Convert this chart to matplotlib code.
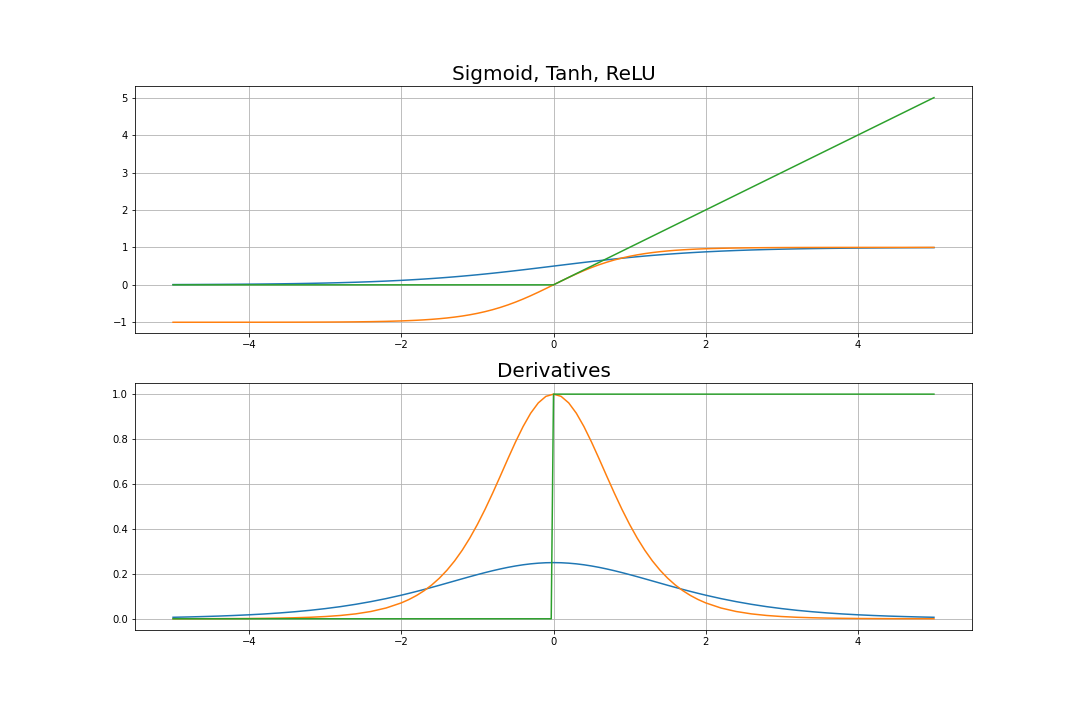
import matplotlib
matplotlib.use("Agg")
import matplotlib.pyplot as plt

# sample points (denser near the middle)
x = [-5.0, -4.8, -4.6, -4.4, -4.2, -4.0, -3.8, -3.6, -3.4, -3.2, -3.0, -2.8, -2.6, -2.4, -2.2,
     -2.0, -1.9, -1.8, -1.7, -1.6, -1.5, -1.4, -1.3, -1.2, -1.1, -1.0,
     -0.9, -0.8, -0.7, -0.6, -0.5, -0.4, -0.3, -0.2, -0.1, 0.0,
     0.1, 0.2, 0.3, 0.4, 0.5, 0.6, 0.7, 0.8, 0.9, 1.0,
     1.1, 1.2, 1.3, 1.4, 1.5, 1.6, 1.7, 1.8, 1.9, 2.0,
     2.2, 2.4, 2.6, 2.8, 3.0, 3.2, 3.4, 3.6, 3.8, 4.0, 4.2, 4.4, 4.6, 4.8, 5.0]

sigmoid = [0.0067, 0.0082, 0.0100, 0.0121, 0.0148, 0.0180, 0.0219, 0.0266, 0.0323, 0.0392, 0.0474, 0.0573, 0.0691, 0.0832, 0.0998,
           0.1192, 0.1301, 0.1419, 0.1545, 0.1680, 0.1824, 0.1978, 0.2142, 0.2315, 0.2497, 0.2689,
           0.2891, 0.3100, 0.3318, 0.3543, 0.3775, 0.4013, 0.4256, 0.4502, 0.4750, 0.5000,
           0.5250, 0.5498, 0.5744, 0.5987, 0.6225, 0.6457, 0.6682, 0.6900, 0.7109, 0.7311,
           0.7503, 0.7685, 0.7858, 0.8022, 0.8176, 0.8320, 0.8455, 0.8581, 0.8699, 0.8808,
           0.9002, 0.9168, 0.9309, 0.9427, 0.9526, 0.9608, 0.9677, 0.9734, 0.9781, 0.9820, 0.9852, 0.9879, 0.9900, 0.9918, 0.9933]

tanh = [-0.9999, -0.9999, -0.9998, -0.9997, -0.9996, -0.9993, -0.9990, -0.9985, -0.9978, -0.9967, -0.9951, -0.9926, -0.9890, -0.9837, -0.9757,
        -0.9640, -0.9562, -0.9468, -0.9354, -0.9217, -0.9051, -0.8854, -0.8617, -0.8337, -0.8005, -0.7616,
        -0.7163, -0.6640, -0.6044, -0.5370, -0.4621, -0.3800, -0.2913, -0.1974, -0.0997, 0.0,
        0.0997, 0.1974, 0.2913, 0.3800, 0.4621, 0.5370, 0.6044, 0.6640, 0.7163, 0.7616,
        0.8005, 0.8337, 0.8617, 0.8854, 0.9051, 0.9217, 0.9354, 0.9468, 0.9562, 0.9640,
        0.9757, 0.9837, 0.9890, 0.9926, 0.9951, 0.9967, 0.9978, 0.9985, 0.9990, 0.9993, 0.9996, 0.9997, 0.9998, 0.9999, 0.9999]

relu_x = [-5.0, 0.0, 5.0]
relu = [0.0, 0.0, 5.0]

d_sigmoid = [0.0066, 0.0081, 0.0099, 0.0120, 0.0146, 0.0177, 0.0214, 0.0259, 0.0313, 0.0376, 0.0452, 0.0540, 0.0644, 0.0763, 0.0898,
             0.1050, 0.1132, 0.1217, 0.1306, 0.1398, 0.1491, 0.1587, 0.1683, 0.1779, 0.1874, 0.1966,
             0.2055, 0.2139, 0.2217, 0.2288, 0.2350, 0.2403, 0.2445, 0.2475, 0.2494, 0.2500,
             0.2494, 0.2475, 0.2445, 0.2403, 0.2350, 0.2288, 0.2217, 0.2139, 0.2055, 0.1966,
             0.1874, 0.1779, 0.1683, 0.1587, 0.1491, 0.1398, 0.1306, 0.1217, 0.1132, 0.1050,
             0.0898, 0.0763, 0.0644, 0.0540, 0.0452, 0.0376, 0.0313, 0.0259, 0.0214, 0.0177, 0.0146, 0.0120, 0.0099, 0.0081, 0.0066]

d_tanh = [0.0002, 0.0003, 0.0004, 0.0006, 0.0009, 0.0013, 0.0020, 0.0030, 0.0045, 0.0066, 0.0099, 0.0147, 0.0218, 0.0324, 0.0480,
          0.0707, 0.0857, 0.1036, 0.1250, 0.1505, 0.1807, 0.2162, 0.2574, 0.3050, 0.3592, 0.4200,
          0.4869, 0.5591, 0.6347, 0.7116, 0.7864, 0.8556, 0.9151, 0.9610, 0.9901, 1.0000,
          0.9901, 0.9610, 0.9151, 0.8556, 0.7864, 0.7116, 0.6347, 0.5591, 0.4869, 0.4200,
          0.3592, 0.3050, 0.2574, 0.2162, 0.1807, 0.1505, 0.1250, 0.1036, 0.0857, 0.0707,
          0.0480, 0.0324, 0.0218, 0.0147, 0.0099, 0.0066, 0.0045, 0.0030, 0.0020, 0.0013, 0.0009, 0.0006, 0.0004, 0.0003, 0.0002]

d_relu_x = [-5.0, -0.03, 0.0, 5.0]
d_relu = [0.0, 0.0, 1.0, 1.0]

fig = plt.figure(figsize=(15, 10), dpi=72)
plt.subplots_adjust(left=0.125, right=0.9, top=0.88, bottom=0.125, hspace=0.2)

plt.subplot(2, 1, 1)
plt.plot(x, sigmoid)
plt.plot(x, tanh)
plt.plot(relu_x, relu)
plt.grid(True)
plt.title('Sigmoid, Tanh, ReLU', fontsize=20)

plt.subplot(2, 1, 2)
plt.plot(x, d_sigmoid)
plt.plot(x, d_tanh)
plt.plot(d_relu_x, d_relu)
plt.grid(True)
plt.title('Derivatives', fontsize=20)

plt.savefig('out.png', dpi=72)
